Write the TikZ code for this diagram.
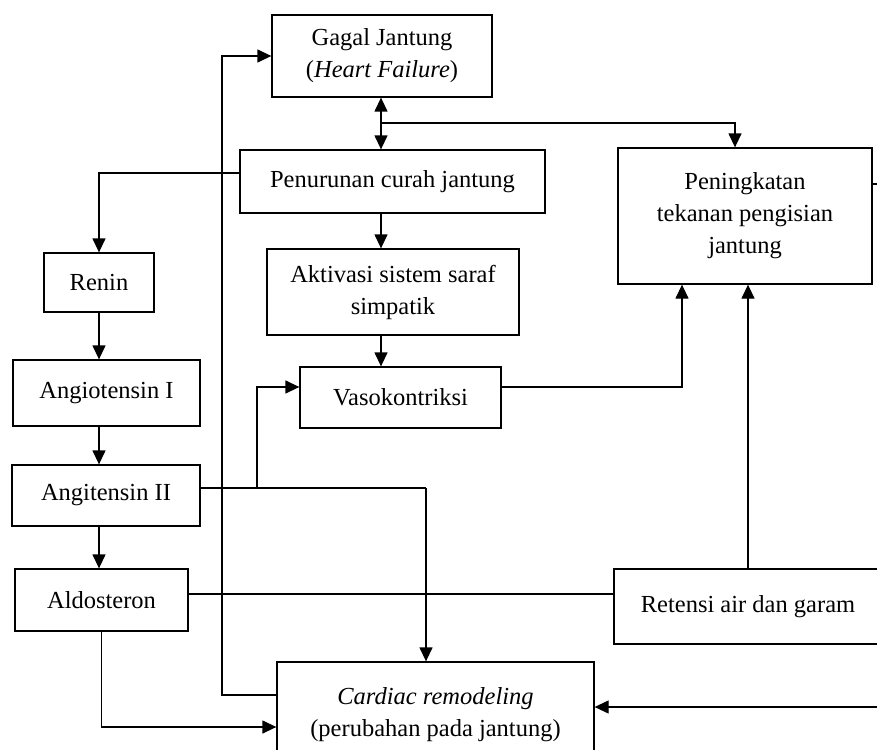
\documentclass[tikz,border=0pt]{standalone}
\usepackage{fontspec}
\setmainfont{Liberation Serif}
\usetikzlibrary{arrows.meta,calc}

\begin{document}
\begin{tikzpicture}[x=1pt,y=-1pt,
  n/.style={draw,line width=1.3pt,inner sep=0pt,align=center,font=\fontsize{24.5}{32}\selectfont},
  ln/.style={line width=1.3pt},
  ar/.style={ln,-{Triangle[length=14pt,width=13pt]}},
  ar2/.style={ln,{Triangle[length=14pt,width=13pt]}-{Triangle[length=14pt,width=13pt]}}]
\clip (0,0) rectangle (877,749);
\node[n,minimum width=220pt,minimum height=82pt]  (gagal)   at (382,56)     {Gagal Jantung\\(\textit{Heart Failure})};
\node[n,minimum width=305pt,minimum height=63pt]  (turun)   at (392.5,181.5) {Penurunan curah jantung};
\node[n,minimum width=254pt,minimum height=136pt] (tingkat) at (745,216)    {Peningkatan\\tekanan pengisian\\jantung};
\node[n,minimum width=252pt,minimum height=86pt]  (aktiv)   at (393,292)    {Aktivasi sistem saraf\\simpatik};
\node[n,minimum width=201pt,minimum height=61pt]  (vaso)    at (400.5,397.5) {Vasokontriksi};
\node[n,minimum width=110pt,minimum height=59pt]  (renin)   at (99,282.5)   {Renin};
\node[n,minimum width=187pt,minimum height=66pt]  (angI)    at (106.5,393)  {Angiotensin I};
\node[n,minimum width=188pt,minimum height=61pt]  (angII)   at (106,495.5)  {Angitensin II};
\node[n,minimum width=173pt,minimum height=62pt]  (aldo)    at (101.5,600)  {Aldosteron};
\node[n,minimum width=268pt,minimum height=75pt]  (retensi) at (748,606.5)  {Retensi air dan garam};
\node[n,minimum width=317pt,minimum height=106pt] (cardiac) at (435.5,715)  {\textit{Cardiac remodeling}\\(perubahan pada jantung)};
\coordinate (mid) at (381,0);
\coordinate (lx)  at (222,0);
\coordinate (j1)  at (381,123);
\coordinate (k1)  at (257,488);
\coordinate (k2)  at (426,488);
\coordinate (rx)  at (877,707);
\coordinate (ry)  at (877,184);
\draw[ar2] (mid |- gagal.south) -- (mid |- turun.north);
\draw[ar] (j1) -| ($(tingkat.north)+(-10,0)$);
\draw[ar] ($(turun.west)+(0,-8.5)$) -| (renin.north);
\draw[ar] (mid |- turun.south) -- (mid |- aktiv.north);
\draw[ar] (mid |- aktiv.south) -- (mid |- vaso.north);
\draw[ar] (renin.south) -- (renin.south |- angI.north);
\draw[ar] (renin.south |- angI.south) -- (renin.south |- angII.north);
\draw[ar] (renin.south |- angII.south) -- (renin.south |- aldo.north);
\draw[ar] ($(cardiac.west)+(0,-20)$) -| (lx |- gagal.west) -- (gagal.west);
\draw[ln] ($(angII.east)+(0,-7.5)$) -- (k2);
\draw[ar] (k2) -- (k2 |- cardiac.north);
\draw[ar] (k1) |- ($(vaso.west)+(0,-10.5)$);
\draw[ar] ($(vaso.east)+(0,-10.5)$) -| ($(tingkat.south)+(-63,0)$);
\draw[ar] (retensi.north) -- (retensi.north |- tingkat.south);
\draw[ln] ($(aldo.east)+(0,-6)$) -- ($(retensi.west)+(0,-12.5)$);
\draw[ar] (aldo.south) |- ($(cardiac.west)+(0,12)$);
\draw[ar] (rx) -- (rx -| cardiac.east);
\draw[ln] ($(tingkat.east)+(0,-32)$) -- (ry);
\end{tikzpicture}
\end{document}
